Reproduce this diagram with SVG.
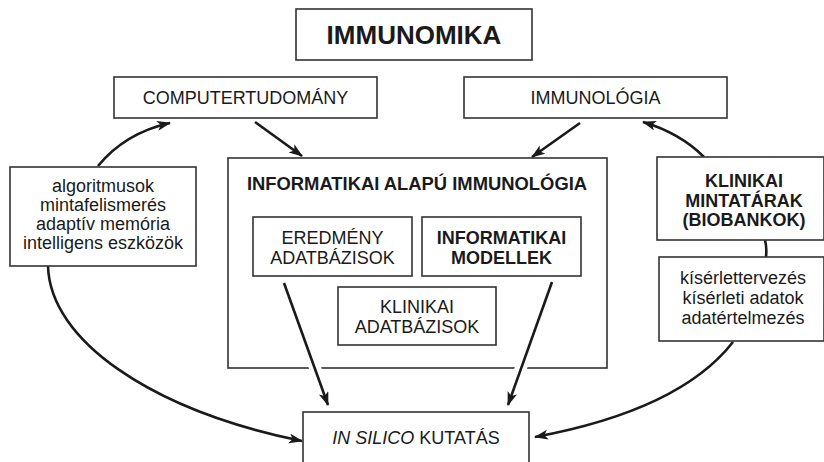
<svg xmlns="http://www.w3.org/2000/svg" width="824" height="462" viewBox="0 0 824 462">
<style>
.box{fill:#fff;stroke:#333;stroke-width:1.6}
.t{font-family:"Liberation Sans",Arial,sans-serif;font-size:18px;fill:#1a1a1a;text-anchor:middle}
.b{font-weight:bold}
.c{fill:none;stroke:#1a1a1a;stroke-width:2.6}
.h{fill:none;stroke:#fff;stroke-width:12}
</style>
<defs>
<marker id="ah" markerUnits="userSpaceOnUse" markerWidth="16" markerHeight="12" refX="13" refY="5" orient="auto">
<path d="M0,0 L14,5 L0,10 L3.5,5 z" fill="#1a1a1a"/>
</marker>
</defs>
<rect width="824" height="462" fill="#fff"/>
<g id="immunomika"><rect class="box" x="296" y="9" width="236" height="51"/><text class="t b" x="414" y="44" style="font-size:26px">IMMUNOMIKA</text></g>
<g id="computer"><rect class="box" x="114" y="77" width="263" height="41"/><text class="t" x="245.5" y="104">COMPUTERTUDOMÁNY</text></g>
<g id="immunologia"><rect class="box" x="464" y="77" width="263" height="41"/><text class="t" x="595.5" y="104">IMMUNOLÓGIA</text></g>
<g id="informatikai"><rect class="box" x="228" y="158" width="379" height="210"/><text class="t b" x="417" y="190" style="font-size:18.4px">INFORMATIKAI ALAPÚ IMMUNOLÓGIA</text></g>
<g id="connectors">
<path class="h" d="M286,288 L326,398"/>
<path class="h" d="M550,288 L510,398"/>
<path class="c" d="M98,166 Q125,133 170,123" marker-end="url(#ah)"/>
<path class="c" d="M255,122 L302,156" marker-end="url(#ah)"/>
<path class="c" d="M580,123 L532,157" marker-end="url(#ah)"/>
<path class="c" d="M704,157 Q680,133 643,122" marker-end="url(#ah)"/>
<path class="c" d="M765,240 Q767,248 766,257"/>
<path class="c" d="M48,266 C50,340 150,410 302,441" marker-end="url(#ah)"/>
<path class="c" d="M733,342 Q680,410 535,437" marker-end="url(#ah)"/>
<path class="c" d="M284,283 L328,405" marker-end="url(#ah)"/>
<path class="c" d="M552,282 L508,405" marker-end="url(#ah)"/>
</g>
<g id="eredmeny"><rect class="box" x="253" y="217" width="159" height="59"/><text class="t" x="332.5" y="244">EREDMÉNY</text><text class="t" x="332.5" y="264">ADATBÁZISOK</text></g>
<g id="modellek"><rect class="box" x="422" y="217" width="159" height="59"/><text class="t b" x="501.5" y="244">INFORMATIKAI</text><text class="t b" x="501.5" y="264">MODELLEK</text></g>
<g id="klinikai-adat"><rect class="box" x="338" y="287" width="158" height="58"/><text class="t" x="417" y="313">KLINIKAI</text><text class="t" x="417" y="333">ADATBÁZISOK</text></g>
<g id="algoritmusok"><rect class="box" x="10" y="167" width="186" height="99"/><text class="t" x="103" y="192">algoritmusok</text><text class="t" x="103" y="211">mintafelismerés</text><text class="t" x="103" y="230">adaptív memória</text><text class="t" x="103" y="249">intelligens eszközök</text></g>
<g id="biobankok"><rect class="box" x="657" y="157" width="167" height="83"/><text class="t b" x="744" y="187">KLINIKAI</text><text class="t b" x="744" y="206.5">MINTATÁRAK</text><text class="t b" x="744" y="226">(BIOBANKOK)</text></g>
<g id="kiserlet"><rect class="box" x="659" y="257" width="165" height="84"/><text class="t" x="743" y="284">kísérlettervezés</text><text class="t" x="743" y="304">kísérleti adatok</text><text class="t" x="743" y="324">adatértelmezés</text></g>
<g id="insilico"><rect class="box" x="303" y="412" width="226" height="60"/><text class="t" x="416" y="444"><tspan font-style="italic">IN SILICO</tspan> KUTATÁS</text></g>
</svg>
